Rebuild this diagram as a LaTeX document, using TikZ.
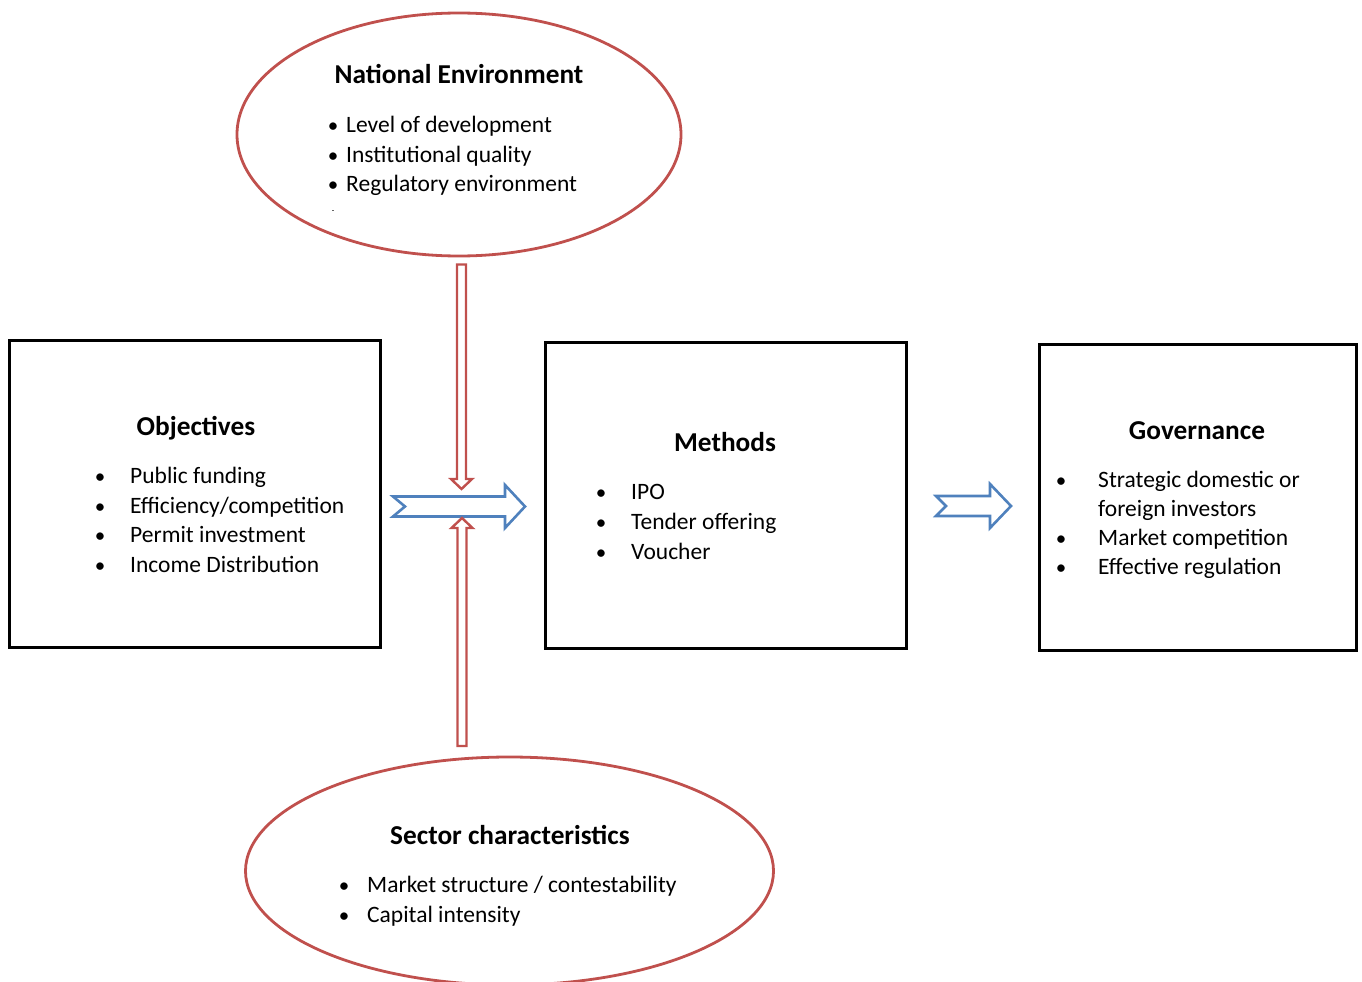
\documentclass[tikz,border=0pt]{standalone}
\usepackage{fontspec}
\setmainfont{Carlito}
\usetikzlibrary{shapes.geometric}
\definecolor{ered}{RGB}{192,80,77}
\definecolor{eblue}{RGB}{79,129,189}
\tikzset{
  box/.style={draw=black, line width=3pt, inner sep=0pt},
  oval/.style={ellipse, draw=ered, line width=2.8pt, inner sep=0pt},
  title/.style={font=\fontsize{27.3}{31}\selectfont\bfseries, anchor=base},
  item/.style={font=\fontsize{23.5}{27}\selectfont, anchor=base west, inner sep=0pt},
  bul/.style={font=\fontsize{21}{25}\selectfont, anchor=base, inner sep=0pt},
  barrow/.style={draw=eblue, line width=2.6pt, fill=white, line join=miter},
  rarrow/.style={draw=ered, line width=2.4pt, fill=white, line join=miter},
}
\begin{document}
\begin{tikzpicture}[x=1pt,y=-1pt]
\useasboundingbox (0,0) rectangle (1362,982);
% ellipses
\node[oval, minimum width=444, minimum height=243] (nat) at (459,134.5) {};
\node[oval, minimum width=528, minimum height=228] (sec) at (509.5,871) {};
% boxes
\node[box, minimum width=371, minimum height=307] (obj) at (194.5,493.5) {};
\node[box, minimum width=361, minimum height=306] (met) at (725.5,495) {};
\node[box, minimum width=317, minimum height=306] (gov) at (1197.5,497) {};
% National environment text
\node[title] (natT) at (459,84) {National Environment};
\node[bul] (nb1) at (333,132) {•};
\node[item] (ni1) at (346,132.5) {Level of development};
\node[bul] (nb2) at (333,162) {•};
\node[item] (ni2) at (346,162.5) {Institutional quality};
\node[bul] (nb3) at (333,191) {•};
\node[item] (ni3) at (346,191.5) {Regulatory environment};
\fill[black!60] (332,209.5) rectangle (334,210.5);
% Objectives
\node[title] (objT) at (196,435) {Objectives};
\node[bul] (ob1) at (100,483) {•};
\node[item] (oi1) at (130,483.5) {Public funding};
\node[bul] (ob2) at (100,513) {•};
\node[item] (oi2) at (130,513.5) {Efficiency/competition};
\node[bul] (ob3) at (100,542) {•};
\node[item] (oi3) at (130,542.5) {Permit investment};
\node[bul] (ob4) at (100,572) {•};
\node[item] (oi4) at (130,572.5) {Income Distribution};
% Methods
\node[title] (metT) at (725,451) {Methods};
\node[bul] (mb1) at (601,499) {•};
\node[item] (mi1) at (631,499.5) {IPO};
\node[bul] (mb2) at (601,529) {•};
\node[item] (mi2) at (631,529.5) {Tender offering};
\node[bul] (mb3) at (601,559) {•};
\node[item] (mi3) at (631,559.5) {Voucher};
% Governance
\node[title] (govT) at (1197,439) {Governance};
\node[bul] (gb1) at (1061,487) {•};
\node[item] (gi1) at (1098,487.5) {Strategic domestic or};
\node[item] (gi1b) at (1098,516.5) {foreign investors};
\node[bul] (gb2) at (1061,545) {•};
\node[item] (gi2) at (1098,545.5) {Market competition};
\node[bul] (gb3) at (1061,574) {•};
\node[item] (gi3) at (1098,574.5) {Effective regulation};
% Sector
\node[title] (secT) at (510,844) {Sector characteristics};
\node[bul] (sb1) at (344,892) {•};
\node[item] (si1) at (367,892.5) {Market structure / contestability};
\node[bul] (sb2) at (344,922) {•};
\node[item] (si2) at (367,922.5) {Capital intensity};
% blue block arrows
\draw[barrow] (393,496.5) -- (505,496.5) -- (505,485) -- (525,506.5) -- (505,528) -- (505,516.5) -- (393,516.5) -- (405,506.5) -- cycle;
\draw[barrow] (936,496) -- (990,496) -- (990,484) -- (1011,506) -- (990,528) -- (990,516) -- (936,516) -- (946,506) -- cycle;
% red double arrows
\draw[rarrow] (457,264.5) -- (466,264.5) -- (466,479) -- (472,479) -- (461.5,489) -- (451,479) -- (457,479) -- cycle;
\draw[rarrow] (457.5,746) -- (466.5,746) -- (466.5,528) -- (472.5,528) -- (462,518) -- (451.5,528) -- (457.5,528) -- cycle;
\end{tikzpicture}
\end{document}
